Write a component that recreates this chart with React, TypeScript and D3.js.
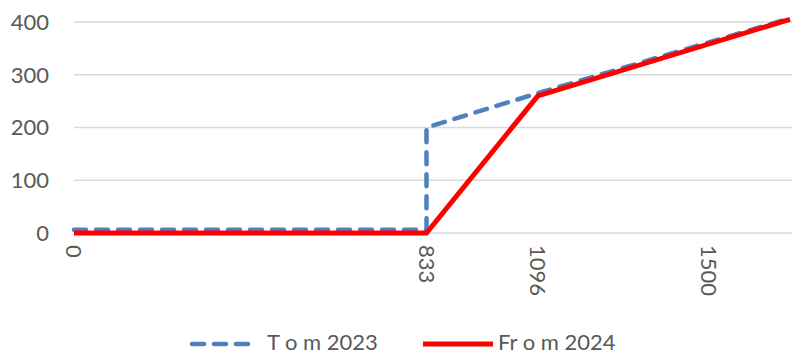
import React from "react";
import * as d3 from "d3";

const xTickLabels = [0, 833, 1096, 1500];
const yTicks = [0, 100, 200, 300, 400];

const tomX = [0, 833, 833, 1096, 1692];
const tomY = [6, 6, 200, 265, 407];
const fromX = [0, 833, 1096, 1692];
const fromY = [0, 0, 260, 405];

const seriesNames = ["T o m 2023", "Fr o m 2024"];

const width = 792;
const height = 355;
const font = "Lato, 'Open Sans', sans-serif";

export default function App() {
  const x = d3.scaleLinear().domain([0, 1692]).range([74, 790]);
  const y = d3.scaleLinear().domain([0, 400]).range([233, 22]);

  const line = d3
    .line<[number, number]>()
    .x(d => x(d[0]))
    .y(d => y(d[1]));

  const tom = line(tomX.map((v, i) => [v, tomY[i]]));
  const from = line(fromX.map((v, i) => [v, fromY[i]]));

  const legendY = 342;

  return (
    <svg
      width={width}
      height={height}
      style={{ position: "absolute", left: 0, top: 0, background: "#fff" }}
    >
      {yTicks.map(t => (
        <g key={t}>
          <line x1={74} x2={792} y1={y(t)} y2={y(t)} stroke="#d9d9d9" strokeWidth={1.5} />
          <text
            x={49}
            y={y(t)}
            dy="0.36em"
            textAnchor="end"
            fontFamily={font}
            fontSize={22}
            fill="#595959"
          >
            {t}
          </text>
        </g>
      ))}
      {xTickLabels.map(t => (
        <text
          key={t}
          transform={`translate(${x(t)},${245}) rotate(90)`}
          dy="0.36em"
          textAnchor="start"
          fontFamily={font}
          fontSize={22}
          fill="#595959"
        >
          {t}
        </text>
      ))}
      <path
        d={tom || ""}
        fill="none"
        stroke="#4f81bd"
        strokeWidth={4.5}
        strokeDasharray="12 10"
        strokeLinecap="round"
        strokeLinejoin="round"
      />
      <path d={from || ""} fill="none" stroke="#ff0000" strokeWidth={5} strokeLinejoin="miter" />

      <line
        x1={192}
        x2={254}
        y1={legendY + 2}
        y2={legendY + 2}
        stroke="#4f81bd"
        strokeWidth={4.5}
        strokeDasharray="12 10"
        strokeLinecap="round"
      />
      <text x={267} y={legendY} dy="0.36em" fontFamily={font} fontSize={22} fill="#595959">
        {seriesNames[0]}
      </text>
      <line x1={423} x2={493} y1={legendY + 2} y2={legendY + 2} stroke="#ff0000" strokeWidth={5} />
      <text x={498} y={legendY} dy="0.36em" fontFamily={font} fontSize={22} fill="#595959">
        {seriesNames[1]}
      </text>
    </svg>
  );
}
